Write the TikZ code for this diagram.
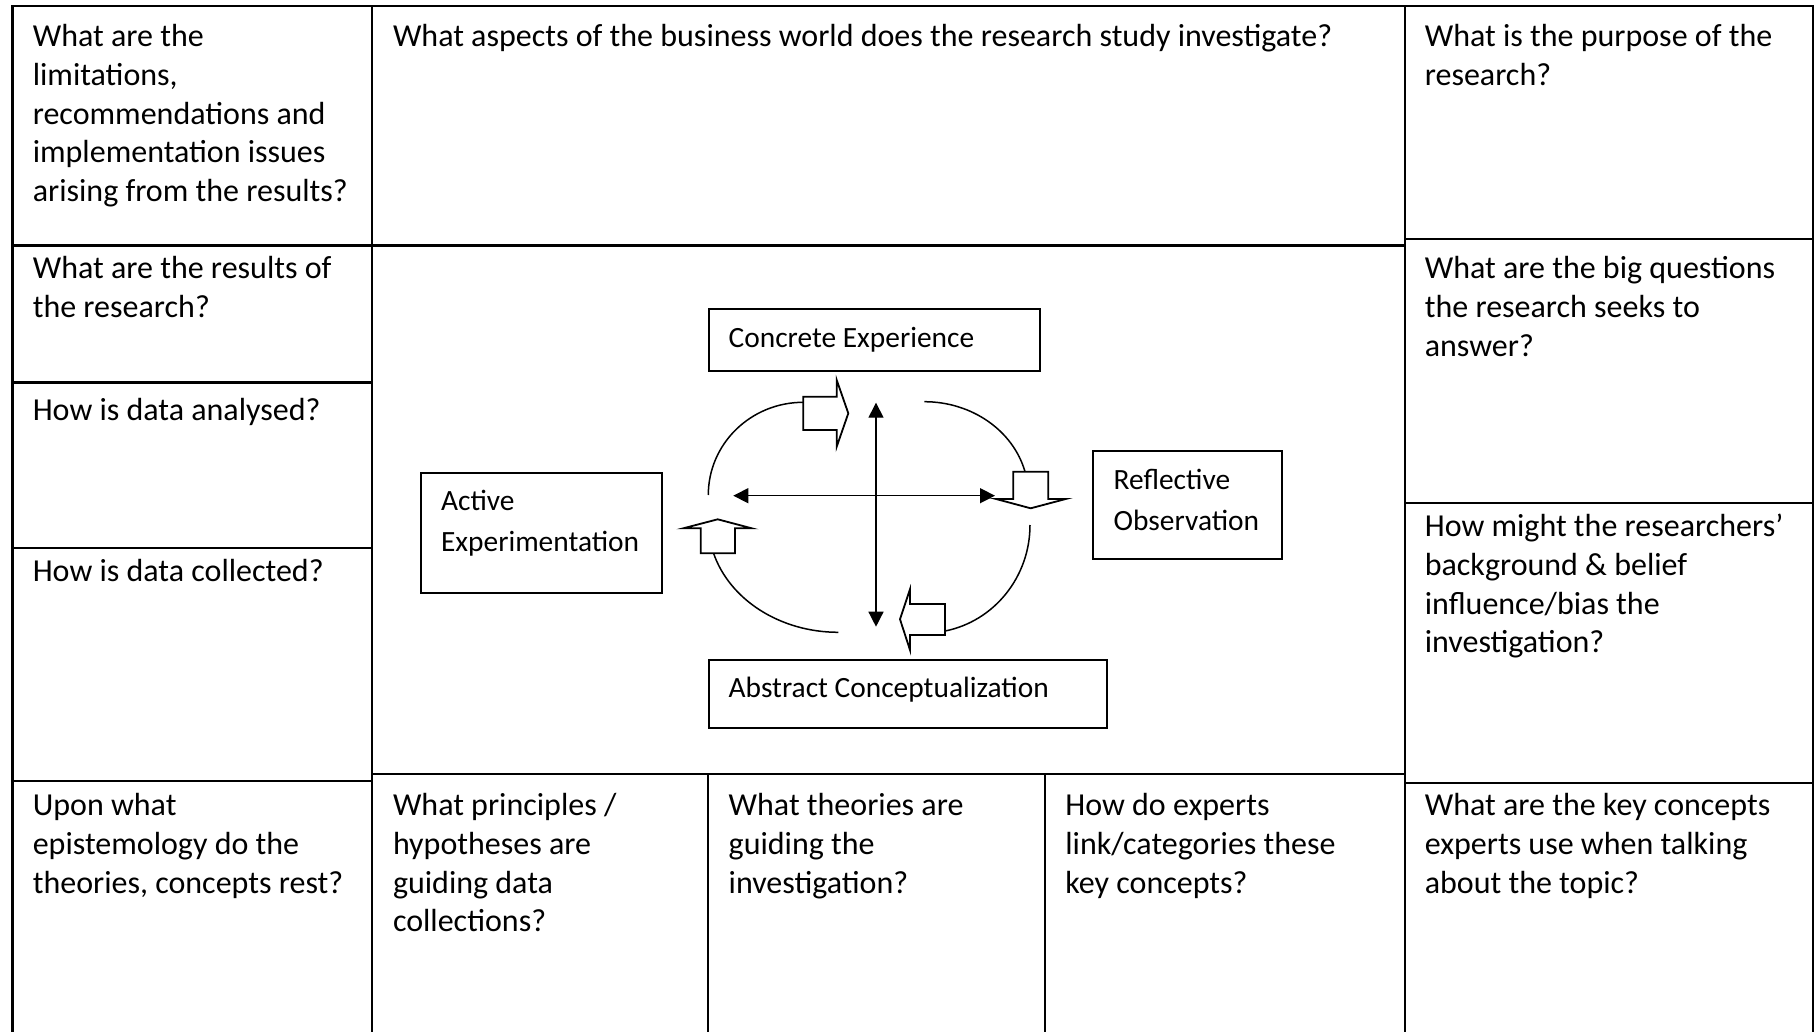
\documentclass[tikz,border=0pt]{standalone}
\usepackage{fontspec}
\setmainfont{Carlito}
\usetikzlibrary{arrows.meta}
\begin{document}
\begin{tikzpicture}[x=0.5pt,y=-0.5pt,
  grid/.style={line width=1.1pt, line cap=rect},
  q/.style={anchor=base west, align=left, inner sep=0pt, font=\fontsize{16pt}{19.45pt}\selectfont},
  lbl/.style={anchor=base west, align=left, inner sep=0pt, font=\fontsize{14.7pt}{20.5pt}\selectfont},
  box/.style={draw, line width=0.9pt, anchor=north west, inner sep=0pt},
  cyc/.style={line width=0.75pt},
  blk/.style={draw, fill=white, line width=0.9pt, line join=miter},
  dbl/.style={line width=0.7pt, {Triangle[length=7.5pt,width=7.5pt]}-{Triangle[length=7.5pt,width=7.5pt]}}
]
\useasboundingbox (0,0) rectangle (1816,1032);

% ---------- table grid ----------
\draw[grid] (12.5,1032) -- (12.5,6) -- (1813,6) -- (1813,1032);
\draw[grid] (372,6) -- (372,1032);
\draw[grid] (1405,6) -- (1405,1032);
\draw[grid] (708,774) -- (708,1032);
\draw[grid] (1045,774) -- (1045,1032);
\draw[grid] (12.5,245.5) -- (1405,245.5);
\draw[grid] (12.5,382.5) -- (372,382.5);
\draw[grid] (12.5,548) -- (372,548);
\draw[grid] (12.5,781) -- (372,781);
\draw[grid] (372,774) -- (1405,774);
\draw[grid] (1405,239) -- (1813,239);
\draw[grid] (1405,503) -- (1813,503);
\draw[grid] (1405,783) -- (1813,783);

% ---------- table texts (anchored at the baseline of the last line) ----------
\node[q] (t1) at (32.4,201.9) {What are the\\limitations,\\recommendations and\\implementation issues\\arising from the results?};
\node[q] (t2) at (392.6,46.3) {What aspects of the business world does the research study investigate?};
\node[q] (t3) at (1424.4,85.2) {What is the purpose of the\\research?};
\node[q] (t4) at (32.4,317.9) {What are the results of\\the research?};
\node[q] (t5) at (32.4,420.4) {How is data analysed?};
\node[q] (t6) at (32.4,581.3) {How is data collected?};
\node[q] (t7) at (32.4,893) {Upon what\\epistemology do the\\theories, concepts rest?};
\node[q] (t8) at (392.6,931.9) {What principles /\\hypotheses are\\guiding data\\collections?};
\node[q] (t9) at (728.3,893) {What theories are\\guiding the\\investigation?};
\node[q] (t10) at (1065,893) {How do experts\\link/categories these\\key concepts?};
\node[q] (t11) at (1424.4,356.8) {What are the big questions\\the research seeks to\\answer?};
\node[q] (t12) at (1424.4,652.9) {How might the researchers’\\background \& belief\\influence/bias the\\investigation?};
\node[q] (t13) at (1424.4,893) {What are the key concepts\\experts use when talking\\about the topic?};

% ---------- cycle boxes ----------
\node[box, minimum width=165.7pt, minimum height=30.9pt] (ce) at (707.7,308.3) {};
\node[lbl] (ce-t) at (728.3,347.3) {Concrete Experience};
\node[box, minimum width=199.2pt, minimum height=33.9pt] (ac) at (707.7,659) {};
\node[lbl] (ac-t) at (728.3,697.3) {Abstract Conceptualization};
\node[box, minimum width=94.2pt, minimum height=54.2pt] (ro) at (1092.3,450) {};
\node[lbl] (ro-t) at (1113.3,530) {Reflective\\Observation};
\node[box, minimum width=120.4pt, minimum height=60pt] (ae) at (420,471.7) {};
\node[lbl] (ae-t) at (440.7,551) {Active\\Experimentation};

% ---------- cycle arcs ----------
\coordinate (a1s) at (708.3,495);
\coordinate (b1s) at (924.3,401.7);
\coordinate (c1s) at (1030,525);
\coordinate (d1s) at (838.3,632.3);
\draw[cyc] (a1s) .. controls (708.3,443.8) and (750.8,402.3) .. (803.3,402.3);
\draw[cyc] (b1s) arc[start angle=-90, end angle=-14.5, x radius=104, y radius=93.3];
\draw[cyc] (c1s) arc[start angle=0, end angle=79, x radius=105, y radius=108];
\draw[cyc] (d1s) arc[start angle=90, end angle=164, x radius=130, y radius=110];

% ---------- block arrows ----------
\draw[blk] (803.3,396.7) -- (836.7,396.7) -- (836.7,380) -- (848.3,413.3) -- (836.7,446.7) -- (836.7,430) -- (803.3,430) -- cycle;
\draw[blk] (1013.3,471.7) -- (1048.3,471.7) -- (1048.3,499) -- (1065.7,499) -- (1030.7,508.3) -- (996,499) -- (1013.3,499) -- cycle;
\draw[blk] (945,604) -- (910,604) -- (910,589.3) -- (900,619.3) -- (910,650) -- (910,635) -- (945,635) -- cycle;
\draw[blk] (700.7,553.3) -- (700.7,528.3) -- (683.3,528.3) -- (717.7,519.3) -- (751.7,528.3) -- (735,528.3) -- (735,553.3) -- cycle;

% ---------- axes ----------
\coordinate (vt) at (876,402.7);
\coordinate (vb) at (876,626.7);
\coordinate (hl) at (733.3,495.7);
\coordinate (hr) at (995,495.7);
\draw[dbl] (vt) -- (vb);
\draw[dbl] (hl) -- (hr);
\end{tikzpicture}
\end{document}
